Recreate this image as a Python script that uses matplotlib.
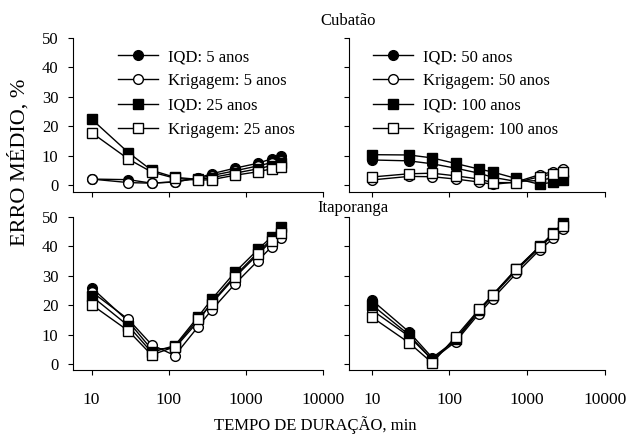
import numpy as np
import matplotlib.pyplot as plt

plt.rcParams['font.family'] = ['Liberation Serif', 'DejaVu Serif']
plt.rcParams['font.size'] = 12

# duração da chuva (min)
duracao = [10, 30, 60, 120, 240, 360, 720, 1440, 2160, 2880]

# Cubatão - erro médio (%)
cub_iqd_5 = [2.0, 1.8, 0.6, 1.0, 2.4, 3.8, 5.7, 7.4, 8.9, 9.8]
cub_krig_5 = [2.0, 0.8, 0.6, 1.1, 2.2, 3.2, 4.8, 6.5, 7.6, 8.3]
cub_iqd_25 = [22.4, 11.0, 5.0, 2.6, 1.9, 2.5, 4.0, 5.5, 6.6, 7.3]
cub_krig_25 = [17.8, 8.8, 4.4, 2.3, 1.6, 1.8, 3.3, 4.5, 5.5, 6.0]
cub_iqd_50 = [8.5, 8.2, 7.2, 5.7, 4.0, 2.6, 1.2, 1.5, 2.5, 3.0]
cub_krig_50 = [1.7, 2.9, 2.8, 2.0, 1.0, 0.2, 1.0, 3.5, 4.5, 5.3]
cub_iqd_100 = [10.3, 10.2, 9.2, 7.3, 5.4, 4.4, 2.2, 0.2, 1.0, 1.8]
cub_krig_100 = [2.7, 3.8, 4.0, 3.1, 2.0, 0.8, 0.8, 2.8, 3.8, 4.3]

# Itaporanga - erro médio (%)
ita_iqd_5 = [26.0, 14.5, 5.0, 5.5, 14.5, 21.0, 30.0, 38.0, 42.5, 45.5]
ita_krig_5 = [24.6, 15.2, 6.6, 2.9, 12.7, 18.4, 27.2, 35.2, 39.9, 42.7]
ita_iqd_25 = [23.1, 13.0, 4.0, 6.3, 16.1, 22.0, 31.2, 39.0, 43.3, 46.5]
ita_krig_25 = [20.2, 11.3, 3.1, 5.9, 15.3, 20.6, 29.5, 37.4, 41.9, 44.7]
ita_iqd_50 = [21.8, 11.0, 2.2, 8.0, 18.0, 23.2, 31.8, 39.5, 44.0, 47.2]
ita_krig_50 = [18.4, 9.5, 1.5, 7.6, 17.2, 22.3, 30.8, 38.8, 42.7, 45.8]
ita_iqd_100 = [20.2, 10.0, 1.5, 8.5, 18.4, 23.6, 32.3, 40.0, 44.6, 48.0]
ita_krig_100 = [16.0, 7.3, 0.4, 9.3, 18.6, 23.5, 32.2, 39.9, 44.1, 46.9]

rotulos_esq = ['IQD: 5 anos', 'Krigagem: 5 anos', 'IQD: 25 anos', 'Krigagem: 25 anos']
rotulos_dir = ['IQD: 50 anos', 'Krigagem: 50 anos', 'IQD: 100 anos', 'Krigagem: 100 anos']

# marcador e preenchimento de cada série
estilos = [('o', 'k'), ('o', 'w'), ('s', 'k'), ('s', 'w')]

W, H = 628, 442
fig = plt.figure(figsize=(W / 100, H / 100), dpi=100)


def eixo(x0, x1, y0, y1):
    return fig.add_axes([x0 / W, 1 - y1 / H, (x1 - x0) / W, (y1 - y0) / H])


ax_ce = eixo(73, 323, 38, 192)
ax_cd = eixo(349, 605, 38, 192)
ax_ie = eixo(73, 323, 217, 370)
ax_id = eixo(349, 605, 217, 370)

paineis = [
    (ax_ce, [cub_iqd_5, cub_krig_5, cub_iqd_25, cub_krig_25], rotulos_esq),
    (ax_cd, [cub_iqd_50, cub_krig_50, cub_iqd_100, cub_krig_100], rotulos_dir),
    (ax_ie, [ita_iqd_5, ita_krig_5, ita_iqd_25, ita_krig_25], rotulos_esq),
    (ax_id, [ita_iqd_50, ita_krig_50, ita_iqd_100, ita_krig_100], rotulos_dir),
]

for ax, series, rotulos in paineis:
    for y, (m, fc), lab in zip(series, estilos, rotulos):
        ax.plot(duracao, y, '-', color='k', lw=1, marker=m, mfc=fc, mec='k',
                ms=7, mew=1, label=lab)
    ax.set_xscale('log')
    ax.set_xticks([10, 100, 1000, 10000])
    ax.set_xticklabels(['10', '100', '1000', '10000'])
    ax.minorticks_off()
    ax.set_yticks([0, 10, 20, 30, 40, 50])
    for s in ['top', 'right']:
        ax.spines[s].set_visible(False)
    ax.tick_params(direction='out', length=3.6, width=0.8)
    ax.tick_params(axis='y', pad=7)
    ax.tick_params(axis='x', pad=12, labelsize=12.5)

for ax in [ax_ce, ax_ie]:
    ax.set_xlim(5.74, 10000)
for ax in [ax_cd, ax_id]:
    ax.set_xlim(5.1, 10000)
    ax.tick_params(labelleft=False)
for ax in [ax_ce, ax_cd]:
    ax.set_ylim(-2.4, 50)
    ax.tick_params(labelbottom=False)
for ax in [ax_ie, ax_id]:
    ax.set_ylim(-2.0, 50)

# legendas só nos painéis de Cubatão
for ax, x0 in [(ax_ce, 118), (ax_cd, 373)]:
    ax.legend(frameon=False, loc='upper left', bbox_to_anchor=(x0 / W, 1 - 49 / H),
              bbox_transform=fig.transFigure, borderpad=0, borderaxespad=0,
              handlelength=2.4, handletextpad=0.6, labelspacing=0.5, fontsize=12)

fig.text(348 / W, 1 - 25 / H, 'Cubatão', ha='center', va='baseline', fontsize=12)
fig.text(353 / W, 1 - 212 / H, 'Itaporanga', ha='center', va='baseline', fontsize=12)
fig.text(19 / W, 1 - 162 / H, 'ERRO MÉDIO, %', rotation=90, ha='center', va='center', fontsize=16)
fig.text(315 / W, 1 - 425 / H, 'TEMPO DE DURAÇÃO, min', ha='center', va='center', fontsize=12)

fig.savefig('out.png', dpi=100)
